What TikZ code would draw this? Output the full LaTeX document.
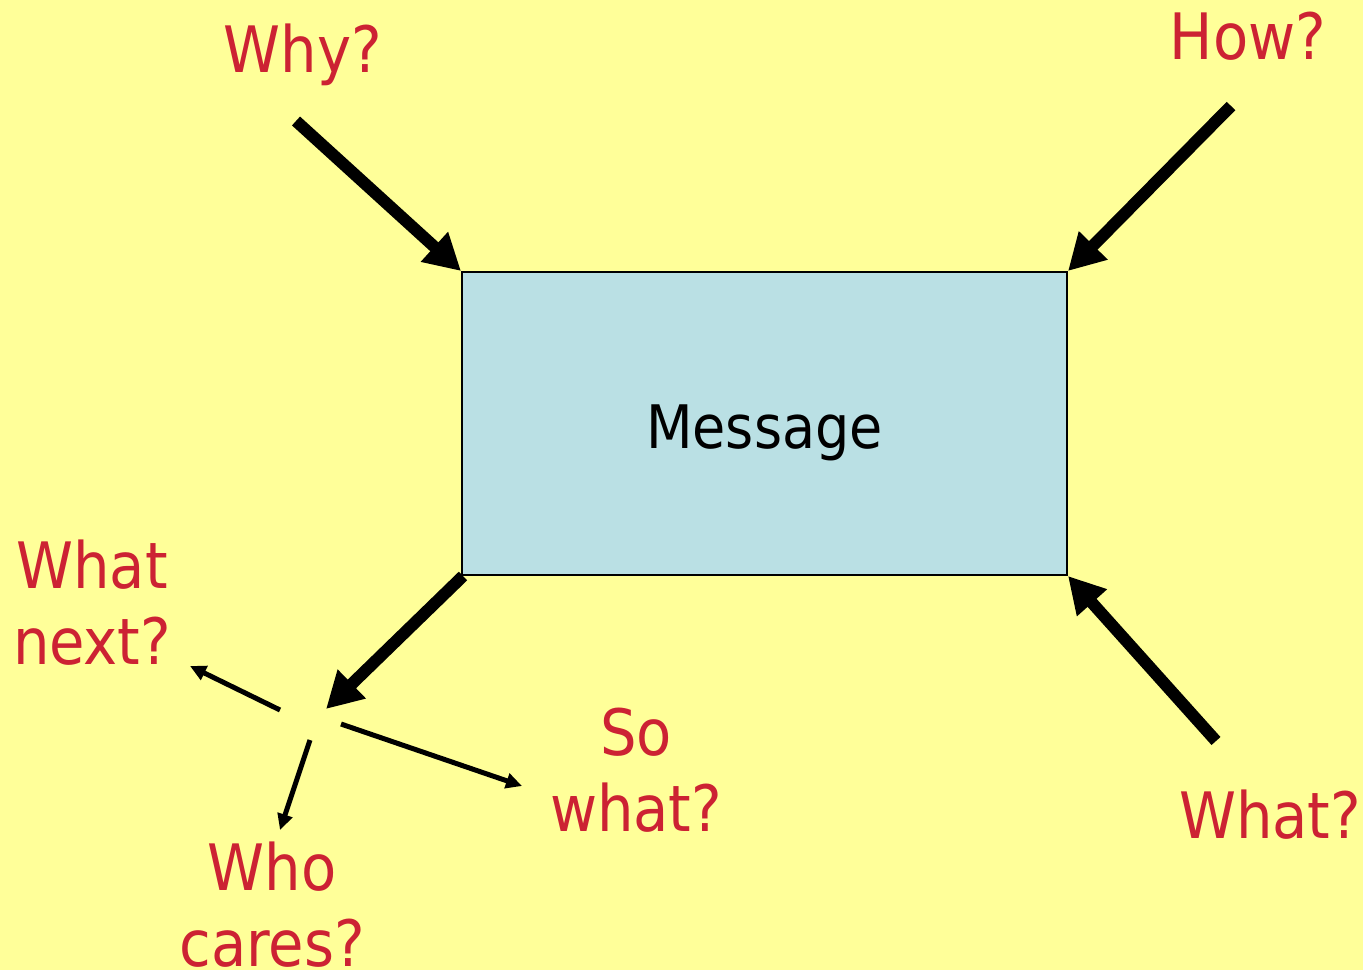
\documentclass[tikz,border=0pt]{standalone}
\usepackage{fontspec}
\setmainfont{DejaVu Sans Condensed}
\usetikzlibrary{arrows.meta}
\definecolor{bgyellow}{HTML}{FFFF99}
\definecolor{boxblue}{HTML}{BAE0E4}
\definecolor{qred}{HTML}{CC2233}
\begin{document}
\begin{tikzpicture}[x=1pt,y=-1pt,
  bigarrow/.style={line width=12pt,-{Triangle[length=36pt,width=38pt]}},
  smallarrow/.style={line width=5pt,-{Triangle[length=16pt,width=15pt]}},
  question/.style={text=qred,font=\fontsize{64}{76}\selectfont,align=center,inner sep=0pt}]
\fill[bgyellow] (0,0) rectangle (1363,970);
\useasboundingbox (0,0) rectangle (1363,970);
\node[draw=black,line width=2pt,fill=boxblue,minimum width=605pt,minimum height=303pt,inner sep=0pt,anchor=north west] (msg) at (461,271) {};
\node[font=\fontsize{60}{72}\selectfont,inner sep=0pt] (msgtext) at ([yshift=-9pt]msg.center) {Message};
\node[question] (why) at (303,55) {Why?};
\node[question] (how) at (1248,36) {How?};
\node[question] (what) at (1270,815) {What?};
\node[question] (next) at (92,603) {What\\next?};
\node[question] (so) at (636,770) {So\\what?};
\node[question] (who) at (272,905) {Who\\cares?};
\coordinate (whyT) at (296,121);
\coordinate (howT) at (1231,106);
\coordinate (whatT) at (1216,741);
\coordinate (hubTip) at (326,709);
\coordinate (nextS) at (280,710);
\coordinate (nextE) at (190,666);
\coordinate (whoS) at (310,740);
\coordinate (whoE) at (280,830);
\coordinate (soS) at (341,724);
\coordinate (soE) at (522,786);
\draw[bigarrow] (whyT) -- (msg.north west);
\draw[bigarrow] (howT) -- (msg.north east);
\draw[bigarrow] (whatT) -- (msg.south east);
\draw[bigarrow] ([shift={(2,0)}]msg.south west) -- (hubTip);
\draw[smallarrow] (nextS) -- (nextE);
\draw[smallarrow] (whoS) -- (whoE);
\draw[smallarrow] (soS) -- (soE);
\end{tikzpicture}
\end{document}
